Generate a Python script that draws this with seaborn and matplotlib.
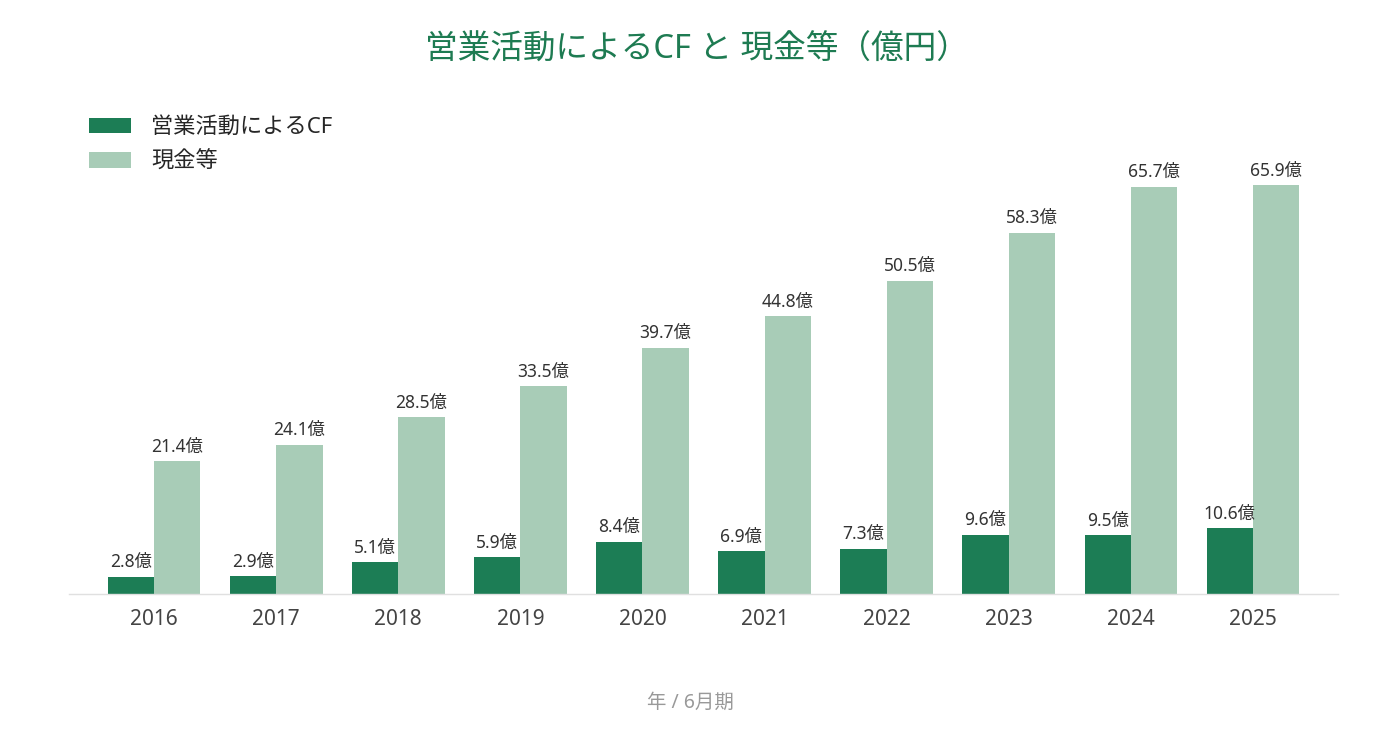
import pandas as pd
import matplotlib
matplotlib.use('Agg')
import matplotlib.pyplot as plt
import seaborn as sns

years = ['2016', '2017', '2018', '2019', '2020', '2021', '2022', '2023', '2024', '2025']
cf = [2.8, 2.9, 5.1, 5.9, 8.4, 6.9, 7.3, 9.6, 9.5, 10.6]
cash = [21.4, 24.1, 28.5, 33.5, 39.7, 44.8, 50.5, 58.3, 65.7, 65.9]
series = ['営業活動によるCF', '現金等']

data = pd.DataFrame({
    '年': years * 2,
    '値': cf + cash,
    '系列': [series[0]] * len(years) + [series[1]] * len(years),
})

sns.set_theme(style='white')
plt.rcParams['font.family'] = ['Noto Sans', 'Noto Sans CJK JP', 'DejaVu Sans']

fig = plt.figure(figsize=(13.8, 7.35), dpi=100)
ax = fig.add_axes([0.05, 0.1918, 0.9196, 0.5905])

sns.barplot(data=data, x='年', y='値', hue='系列', palette=['#1c7d55', '#a8ccb7'],
            width=0.76, saturation=1, linewidth=0, ax=ax)

for c in ax.containers:
    ax.bar_label(c, labels=[f'{v:.1f}億' for v in c.datavalues], padding=4,
                 fontsize=12.5, color='#333333')

ax.set_xlim(-0.696, 9.696)
ax.set_ylim(0, 70)
ax.set_yticks([])
ax.set_ylabel('')
ax.set_xlabel('')
ax.tick_params(axis='x', labelsize=15, colors='#444444', length=0, pad=11)
for s in ['top', 'right', 'left']:
    ax.spines[s].set_visible(False)
ax.spines['bottom'].set_color('#e0e0e0')
ax.spines['bottom'].set_linewidth(1)

ax.legend(loc='upper left', bbox_to_anchor=(0.0, 1.145), frameon=False, fontsize=16,
          handlelength=1.9, handleheight=0.7, labelspacing=0.6, handletextpad=0.9)

fig.text(0.5, 1 - 703 / 735, '年 / 6月期', ha='center', va='center',
         fontsize=14, color='#999999')
fig.text(0.505, 1 - 50 / 735, '営業活動によるCF と 現金等（億円）', ha='center', va='center',
         fontsize=23.5, color='#1e7b52')

fig.savefig('out.png', dpi=100, facecolor='white')
